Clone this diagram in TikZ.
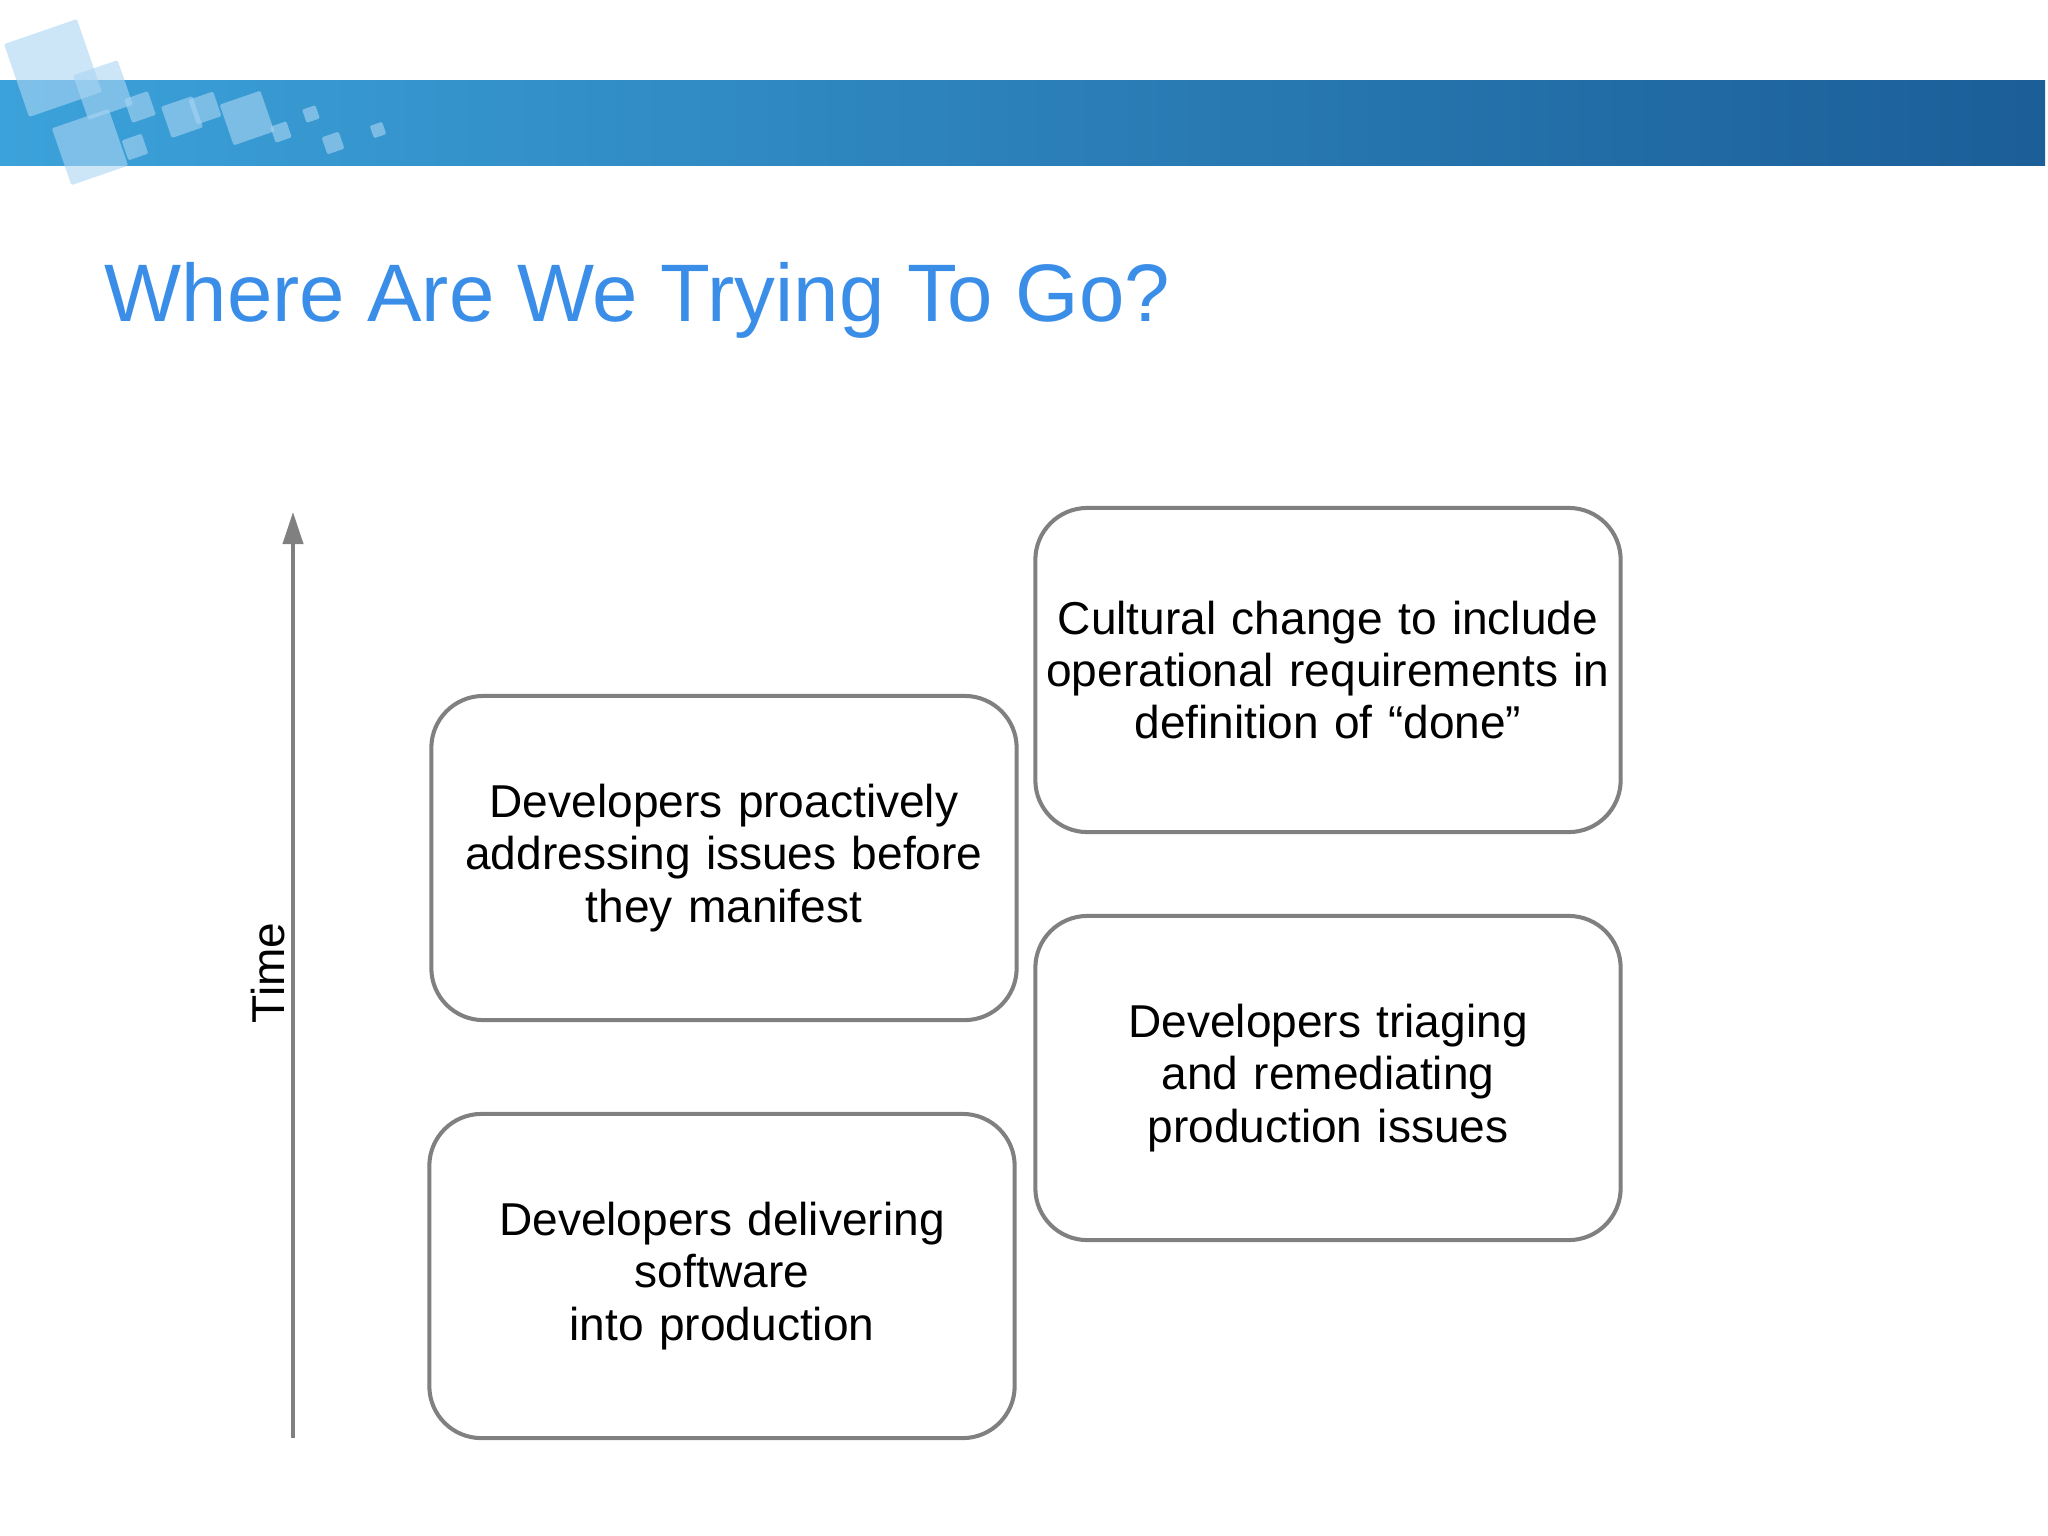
\documentclass[tikz,border=0pt]{standalone}
\usepackage{fontspec}
\setmainfont{Liberation Sans}
\usetikzlibrary{arrows.meta}
\definecolor{barleft}{RGB}{60,162,218}
\definecolor{barright}{RGB}{27,94,152}
\definecolor{titleblue}{RGB}{59,142,232}
\definecolor{boxgray}{RGB}{128,128,128}
\definecolor{squareblue}{RGB}{170,213,243}
\tikzset{
  stagebox/.style={draw=boxgray, line width=1.15pt, rounded corners=0.52cm,
    minimum width=5.85cm, minimum height=3.24cm, align=center, text width=5.7cm,
    inner xsep=0.05cm, font=\fontsize{13.1}{14.9}\selectfont},
  logosq/.style={fill=squareblue, fill opacity=0.6, rounded corners=0.4pt,
    inner sep=0pt, rotate=19}
}
\begin{document}
\begin{tikzpicture}[x=0.01cm, y=-0.01cm]
\path[use as bounding box, fill=white] (0,0) rectangle (2048,1535);
\shade[left color=barleft, right color=barright] (0,80) rectangle (2045,165);
\foreach \n/\x/\y/\s in {1/53/68/77, 2/103/90/47, 3/90/147/60, 4/135/147/21,
  5/140/107/25, 6/182/117/33, 7/205/108/26, 8/247/118/43, 9/281/132/17,
  10/311/114/14, 11/333/143/18, 12/378/130/13}
  \node[logosq, minimum size=\s*0.01cm] (sq\n) at (\x,\y) {};
\node[anchor=base west, inner sep=0pt, text=titleblue,
  font=\fontsize{23.2}{28}\selectfont] (title) at (104,321) {Where Are We Trying To Go?};
\node[stagebox] (done) at (1328,670) {Cultural change to include\\operational requirements in\\definition of “done”};
\node[stagebox] (triage) at (1328,1078) {Developers triaging\\and remediating\\production issues};
\node[stagebox] (proact) at (724,858) {Developers proactively\\addressing issues before\\they manifest};
\node[stagebox] (deliver) at (722,1276) {Developers delivering\\software\\into production};
\coordinate (tbot) at (293,1438);
\coordinate (ttop) at (293,512);
\path[draw,boxgray,line width=1.15pt,-{Triangle[length=0.32cm,width=0.2cm]}] (tbot) -- (ttop);
\node[rotate=90, font=\fontsize{13.1}{14.9}\selectfont] (time) at (268,973) {Time};
\end{tikzpicture}
\end{document}
